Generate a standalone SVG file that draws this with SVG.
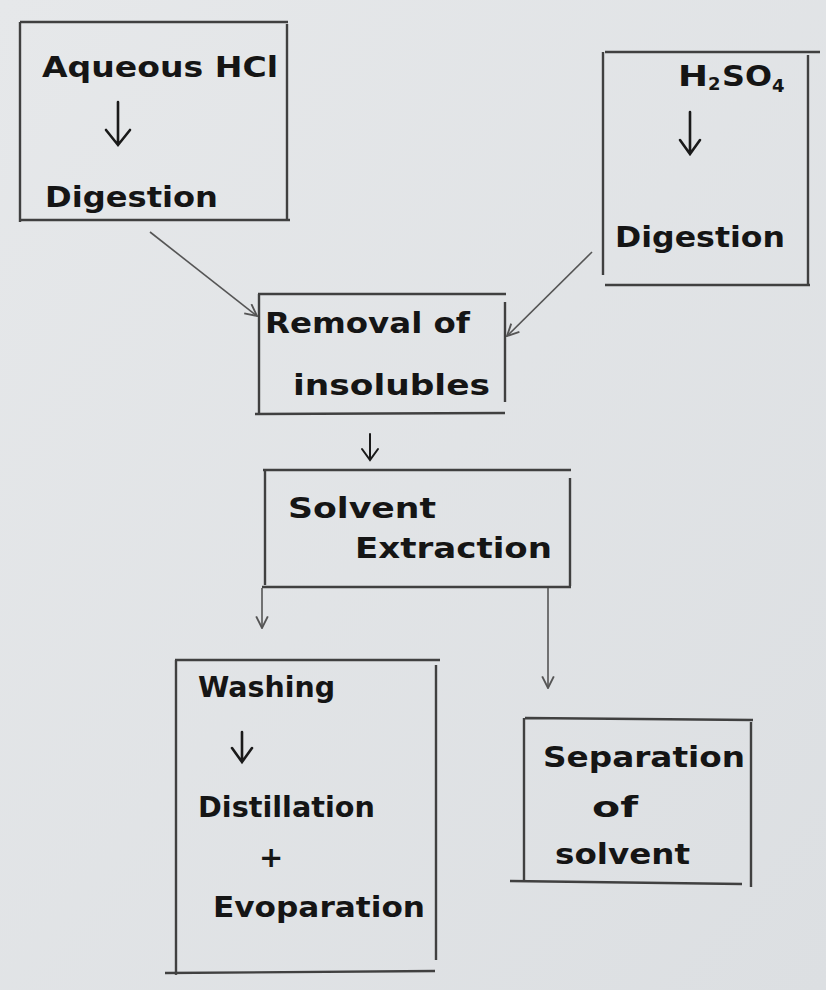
<svg xmlns="http://www.w3.org/2000/svg" width="826" height="990" viewBox="0 0 826 990">
<defs>
<linearGradient id="bg" x1="0" y1="0" x2="1" y2="1">
<stop offset="0" stop-color="#e6e8ea"/>
<stop offset="1" stop-color="#dcdfe2"/>
</linearGradient>
<marker id="ah" viewBox="0 0 12 12" refX="11" refY="6" markerWidth="14" markerHeight="14" markerUnits="userSpaceOnUse" orient="auto">
<path d="M1,1 L11,6 L1,11" fill="none" stroke="#555" stroke-width="1.6"/>
</marker>
</defs>
<style>
.box{fill:none;stroke:#404040;stroke-width:2.4}
.t{font-family:"DejaVu Sans","Liberation Sans",sans-serif;font-size:29px;fill:#151515;font-weight:bold}
.c{fill:none;stroke:#555;stroke-width:1.6}
.ia{fill:none;stroke:#1a1a1a;stroke-width:2.6;stroke-linecap:round}
</style>
<rect width="826" height="990" fill="url(#bg)"/>

<g id="n1">
<path class="box" d="M20,22 L288,22 M20,22 L20,222 M287,24 L287,220 M20,220 L290,220"/>
<text class="t" x="42" y="77" textLength="236" lengthAdjust="spacingAndGlyphs">Aqueous HCl</text>
<path class="ia" d="M118,102 L118,142 M106,130 L118,145 L130,130"/>
<text class="t" x="45" y="207" textLength="173" lengthAdjust="spacingAndGlyphs">Digestion</text>
</g>

<g id="n2">
<path class="box" d="M605,52 L820,52 M603,52 L603,275 M808,55 L808,285 M605,285 L810,285"/>
<text class="t" x="678" y="86" textLength="30" lengthAdjust="spacingAndGlyphs">H</text>
<text class="t" x="708" y="90" style="font-size:18px">2</text>
<text class="t" x="722" y="86" textLength="50" lengthAdjust="spacingAndGlyphs">SO</text>
<text class="t" x="772" y="92" style="font-size:18px">4</text>
<path class="ia" d="M690,112 L690,152 M680,140 L690,154 L700,140"/>
<text class="t" x="615" y="247" textLength="170" lengthAdjust="spacingAndGlyphs">Digestion</text>
</g>

<g id="n3">
<path class="box" d="M258,294 L506,294 M259,294 L259,414 M505,302 L505,402 M255,414 L505,413"/>
<text class="t" x="265" y="333" textLength="205" lengthAdjust="spacingAndGlyphs">Removal of</text>
<text class="t" x="293" y="395" textLength="197" lengthAdjust="spacingAndGlyphs">insolubles</text>
</g>

<g id="n4">
<path class="box" d="M263,470 L571,470 M265,470 L265,585 M570,478 L570,586 M262,587 L571,587"/>
<text class="t" x="288" y="518" textLength="148" lengthAdjust="spacingAndGlyphs">Solvent</text>
<text class="t" x="355" y="558" textLength="197" lengthAdjust="spacingAndGlyphs">Extraction</text>
</g>

<g id="n5">
<path class="box" d="M175,660 L440,660 M176,660 L176,975 M436,665 L436,960 M165,973 L435,971"/>
<text class="t" x="198" y="697" textLength="137" lengthAdjust="spacingAndGlyphs">Washing</text>
<path class="ia" d="M242,732 L242,760 M232,748 L242,762 L252,748"/>
<text class="t" x="198" y="817" textLength="177" lengthAdjust="spacingAndGlyphs">Distillation</text>
<text class="t" x="259" y="867">+</text>
<text class="t" x="213" y="917" textLength="212" lengthAdjust="spacingAndGlyphs">Evoparation</text>
</g>

<g id="n6">
<path class="box" d="M525,718 L753,720 M524,718 L524,882 M751,722 L751,887 M510,881 L742,884"/>
<text class="t" x="543" y="767" textLength="202" lengthAdjust="spacingAndGlyphs">Separation</text>
<text class="t" x="592" y="817" textLength="46" lengthAdjust="spacingAndGlyphs">of</text>
<text class="t" x="555" y="864" textLength="135" lengthAdjust="spacingAndGlyphs">solvent</text>
</g>

<g id="connectors">
<path class="c" d="M150,232 L257,316" marker-end="url(#ah)"/>
<path class="c" d="M592,252 L507,336" marker-end="url(#ah)"/>
<path class="ia" style="stroke-width:2" d="M370,434 L370,458 M362,449 L370,460 L378,449"/>
<path class="c" d="M262,588 L262,628" marker-end="url(#ah)"/>
<path class="c" d="M548,588 L548,688" marker-end="url(#ah)"/>
</g>
</svg>
